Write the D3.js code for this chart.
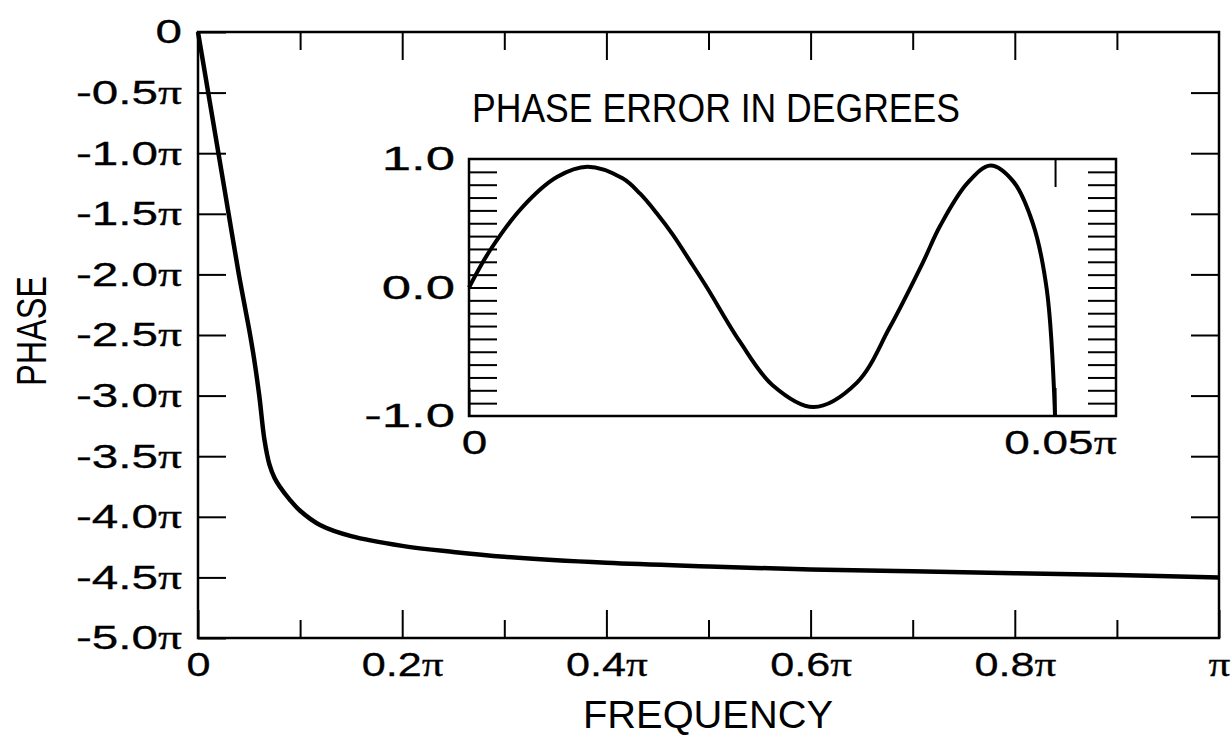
<!DOCTYPE html>
<html>
<head>
<meta charset="utf-8">
<script src="https://cdn.jsdelivr.net/npm/d3@7"></script>
<style>
  body { margin: 0; background: #fff; }
  svg { display: block; }
  .pi { font-family: "Liberation Serif", "Times New Roman", serif; }
</style>
</head>
<body>
<div id="chart"></div>
<script>

// main curve: frequency and phase, both in units of pi
var freq  = [0, 0.01, 0.02, 0.03, 0.04, 0.05, 0.055, 0.06, 0.065, 0.07, 0.075, 0.08, 0.09, 0.10,
             0.12, 0.15, 0.20, 0.25, 0.30, 0.40, 0.50, 0.60, 0.70, 0.80, 0.90, 1.0];
var phase = [0, -0.5, -1.0, -1.5, -2.0, -2.45, -2.7, -3.0, -3.36, -3.57, -3.68, -3.75, -3.86, -3.95,
             -4.07, -4.16, -4.24, -4.29, -4.33, -4.38, -4.41, -4.435, -4.45, -4.465, -4.48, -4.50];

// inset: phase error (degrees) over 0 .. 0.05 pi
var errFreq = [0, 0.0018, 0.0046, 0.0075, 0.0101, 0.0131, 0.0146, 0.016, 0.0174, 0.0189, 0.0203,
               0.0231, 0.0259, 0.0294, 0.0331, 0.0359, 0.0387, 0.0402, 0.0425, 0.0445, 0.0464,
               0.0481, 0.0493, 0.05];
var errDeg  = [0, 0.29, 0.63, 0.86, 0.94, 0.85, 0.73, 0.58, 0.41, 0.20, 0.0,
               -0.42, -0.76, -0.93, -0.74, -0.31, 0.19, 0.48, 0.81, 0.95, 0.83,
               0.5, -0.02, -1.0];

// ticks
var phaseTicks = [0, -0.5, -1.0, -1.5, -2.0, -2.5, -3.0, -3.5, -4.0, -4.5, -5.0];
var freqTicks = [0, 0.2, 0.4, 0.6, 0.8, 1.0];
var freqMinorTicks = [0.1, 0.3, 0.5, 0.7, 0.9];
var errTicks = [-1.0, 0.0, 1.0];
var errMinorTicks = [-0.9, -0.8, -0.7, -0.6, -0.5, -0.4, -0.3, -0.2, -0.1, 0,
                     0.1, 0.2, 0.3, 0.4, 0.5, 0.6, 0.7, 0.8, 0.9];
var errFreqTicks = [0, 0.05];

var FONT = '"Liberation Sans", Arial, Helvetica, sans-serif';

function draw() {

    var width = 1232, height = 737;
    var box = { left: 198, top: 32, right: 1219, bottom: 638 };
    var ibox = { left: 469, top: 159, right: 1116, bottom: 416 };

    var svg = d3.select('#chart').append('svg')
        .attr('width', width)
        .attr('height', height);

    var x = d3.scaleLinear().domain([0, 1]).range([box.left, box.right]);
    var y = d3.scaleLinear().domain([-5, 0]).range([box.bottom, box.top]);

    var xi = d3.scaleLinear().domain([0, 0.0552]).range([ibox.left, ibox.right]);
    var yi = d3.scaleLinear().domain([-1, 1]).range([ibox.bottom, ibox.top]);

    // pi-label: number in sans, the pi sign in a serif face, then widened like the scan
    function piText(sel, fmt, stretch) {
        sel.each(function(d) {
            var t = d3.select(this);
            var s = fmt(d);
            t.text(null);
            if (s.slice(-1) === 'π') {
                if (s.length > 1) t.append('tspan').text(s.slice(0, -1));
                t.append('tspan').attr('class', 'pi').text('π');
            } else {
                t.append('tspan').text(s);
            }
            var w = this.getComputedTextLength();
            t.attr('textLength', w * stretch).attr('lengthAdjust', 'spacingAndGlyphs')
                .attr('stroke', '#000').attr('stroke-width', 0.3);
        });
    }

    function phaseFmt(d) {
        return d === 0 ? '0' : '-' + Math.abs(d).toFixed(1) + 'π';
    }
    function freqFmt(d) {
        if (d === 0) return '0';
        if (d === 1) return 'π';
        return d.toFixed(1) + 'π';
    }

    function styleAxis(g) {
        g.select('.domain').remove();
        g.selectAll('.tick line').attr('stroke', '#000').attr('stroke-width', 2);
        g.attr('font-family', FONT).attr('font-size', 34);
        g.selectAll('.tick text').attr('fill', '#000');
    }

    /*** MAIN PLOT ***/

    svg.append('g')
        .attr('transform', 'translate(' + box.left + ',0)')
        .call(d3.axisLeft(y).tickValues(phaseTicks).tickSize(-28).tickPadding(16))
        .call(styleAxis)
        .selectAll('.tick text').call(piText, phaseFmt, 1.4);

    svg.append('g')
        .attr('transform', 'translate(' + box.right + ',0)')
        .call(d3.axisRight(y).tickValues(phaseTicks.slice(1, -1)).tickSize(-28).tickFormat(''))
        .call(styleAxis);

    svg.append('g')
        .attr('transform', 'translate(0,' + box.bottom + ')')
        .call(d3.axisBottom(x).tickValues(freqTicks).tickSize(-28).tickPadding(14))
        .call(styleAxis)
        .selectAll('.tick text').call(piText, freqFmt, 1.27);

    svg.append('g')
        .attr('transform', 'translate(0,' + box.bottom + ')')
        .call(d3.axisBottom(x).tickValues(freqMinorTicks).tickSize(-18).tickFormat(''))
        .call(styleAxis);

    svg.append('g')
        .attr('transform', 'translate(0,' + box.top + ')')
        .call(d3.axisTop(x).tickValues(freqTicks.slice(1, -1)).tickSize(-28).tickFormat(''))
        .call(styleAxis);

    svg.append('g')
        .attr('transform', 'translate(0,' + box.top + ')')
        .call(d3.axisTop(x).tickValues(freqMinorTicks).tickSize(-18).tickFormat(''))
        .call(styleAxis);

    svg.append('rect')
        .attr('x', box.left).attr('y', box.top)
        .attr('width', box.right - box.left)
        .attr('height', box.bottom - box.top)
        .attr('fill', 'none')
        .attr('stroke', '#000')
        .attr('stroke-width', 2.5);

    var line = d3.line()
        .x(function(d) { return x(d[0]); })
        .y(function(d) { return y(d[1]); })
        .curve(d3.curveCatmullRom.alpha(0.5));

    svg.append('path')
        .datum(d3.zip(freq, phase))
        .attr('d', line)
        .attr('fill', 'none')
        .attr('stroke', '#000')
        .attr('stroke-width', 4.5)
        .attr('stroke-linejoin', 'round');

    /*** INSET ***/

    svg.append('rect')
        .attr('x', ibox.left).attr('y', ibox.top)
        .attr('width', ibox.right - ibox.left)
        .attr('height', ibox.bottom - ibox.top)
        .attr('fill', '#fff');

    svg.append('g')
        .attr('transform', 'translate(' + ibox.left + ',0)')
        .call(d3.axisLeft(yi).tickValues(errMinorTicks).tickSize(-28).tickFormat(''))
        .call(styleAxis);

    svg.append('g')
        .attr('transform', 'translate(' + ibox.left + ',0)')
        .call(d3.axisLeft(yi).tickValues(errTicks).tickSize(0).tickPadding(14))
        .call(styleAxis)
        .selectAll('.tick text').call(piText, function(d) { return d.toFixed(1); }, 1.55);

    svg.append('g')
        .attr('transform', 'translate(' + ibox.right + ',0)')
        .call(d3.axisRight(yi).tickValues(errMinorTicks).tickSize(-28).tickFormat(''))
        .call(styleAxis);

    var ixAxis = svg.append('g')
        .attr('transform', 'translate(0,' + ibox.bottom + ')')
        .call(d3.axisBottom(xi).tickValues(errFreqTicks).tickSize(-28).tickPadding(14))
        .call(styleAxis);
    ixAxis.selectAll('.tick text')
        .attr('x', 5)
        .call(piText, function(d) { return d === 0 ? '0' : '0.05π'; }, 1.35);

    svg.append('g')
        .attr('transform', 'translate(0,' + ibox.top + ')')
        .call(d3.axisTop(xi).tickValues(errFreqTicks.slice(1)).tickSize(-28).tickFormat(''))
        .call(styleAxis);

    svg.append('rect')
        .attr('x', ibox.left).attr('y', ibox.top)
        .attr('width', ibox.right - ibox.left)
        .attr('height', ibox.bottom - ibox.top)
        .attr('fill', 'none')
        .attr('stroke', '#000')
        .attr('stroke-width', 2.5);

    var iline = d3.line()
        .x(function(d) { return xi(d[0]); })
        .y(function(d) { return yi(d[1]); })
        .curve(d3.curveCatmullRom.alpha(0.5));

    svg.append('path')
        .datum(d3.zip(errFreq, errDeg))
        .attr('d', iline)
        .attr('fill', 'none')
        .attr('stroke', '#000')
        .attr('stroke-width', 4)
        .attr('stroke-linejoin', 'round');

    /*** TITLES ***/

    svg.append('text')
        .attr('x', 472).attr('y', 122)
        .attr('font-family', FONT).attr('font-size', 40)
        .attr('textLength', 488).attr('lengthAdjust', 'spacingAndGlyphs')
        .text('PHASE ERROR IN DEGREES');

    svg.append('text')
        .attr('x', 708).attr('y', 728)
        .attr('text-anchor', 'middle')
        .attr('font-family', FONT).attr('font-size', 38)
        .attr('textLength', 250).attr('lengthAdjust', 'spacingAndGlyphs')
        .text('FREQUENCY');

    svg.append('text')
        .attr('transform', 'translate(46,331) rotate(-90)')
        .attr('text-anchor', 'middle')
        .attr('font-family', FONT).attr('font-size', 42)
        .attr('textLength', 110).attr('lengthAdjust', 'spacingAndGlyphs')
        .text('PHASE');
}

draw();
</script>
</body>
</html>
